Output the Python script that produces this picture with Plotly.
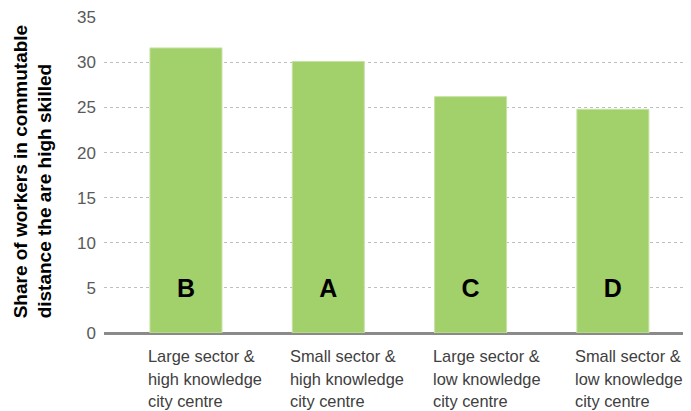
import plotly.graph_objects as go

categories = ["Large sector &<br>high knowledge<br>city centre",
              "Small sector &<br>high knowledge<br>city centre",
              "Large sector &<br>low knowledge<br>city centre",
              "Small sector &<br>low knowledge<br>city centre"]
values = [31.6, 30.1, 26.2, 24.8]
letters = ["B", "A", "C", "D"]
yticks = [0, 5, 10, 15, 20, 25, 30, 35]

xpos = list(range(len(categories)))

fig = go.Figure()
fig.add_trace(go.Bar(
    x=xpos, y=values, width=0.506,
    marker=dict(color="#A2D06A", line=dict(color="#C6E2A4", width=1)),
    showlegend=False, hoverinfo="skip",
))
fig.add_trace(go.Scatter(
    x=xpos, y=[4.7] * len(xpos), mode="text", text=letters,
    textfont=dict(family="Liberation Sans", size=25, color="black", weight="bold"),
    showlegend=False, hoverinfo="skip", cliponaxis=False,
))

line_offsets = [-23, -45.6, -68.3]
for i, c in enumerate(categories):
    for j, line in enumerate(c.split("<br>")):
        fig.add_annotation(x=i, y=0, xref="x", yref="y", text=line, showarrow=False,
                           xanchor="left", yanchor="middle", align="left",
                           xshift=-40, yshift=line_offsets[j],
                           font=dict(family="Liberation Sans", size=16.4, color="#404040"))

fig.add_annotation(xref="paper", yref="paper", x=0, y=0.04, xshift=-71,
                   text="Share of workers in commutable<br>distance the are high skilled",
                   textangle=-90, showarrow=False, xanchor="center", yanchor="bottom",
                   align="left",
                   font=dict(family="Liberation Sans", size=19, color="black", weight="bold"))

fig.update_layout(
    width=683, height=403,
    margin=dict(l=96, r=0, t=9, b=78, autoexpand=False),
    plot_bgcolor="white", paper_bgcolor="white",
    xaxis=dict(range=[-0.576, 3.549], showticklabels=False, showgrid=False,
               zeroline=False, showline=False, fixedrange=True, automargin=False),
    yaxis=dict(range=[0, 35.03], tickvals=yticks, showgrid=True, automargin=False,
               gridcolor="#BFBFBF", griddash="dot", gridwidth=1,
               zeroline=True, zerolinecolor="#8A8A8A", zerolinewidth=2.5,
               ticks="", ticklabelstandoff=7,
               tickfont=dict(family="Liberation Sans", size=17, color="#595959")),
)

fig.write_html("out.html")
